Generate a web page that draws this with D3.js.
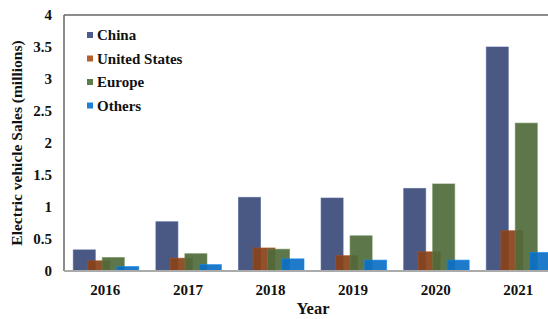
<!DOCTYPE html>
<html>
<head>
<meta charset="utf-8">
<script src="https://cdn.jsdelivr.net/npm/d3@7"></script>
<style>
  body { margin: 0; background: #fff; }
  svg text { font-family: "Liberation Serif", "Times New Roman", serif; font-weight: bold; fill: #111; }
</style>
</head>
<body>
<div id="chart"></div>
<script>
const years = ["2016", "2017", "2018", "2019", "2020", "2021"];
const series = ["China", "United States", "Europe", "Others"];
const china = [0.33, 0.77, 1.15, 1.14, 1.29, 3.5];
const unitedStates = [0.16, 0.2, 0.36, 0.24, 0.3, 0.63];
const europe = [0.21, 0.27, 0.34, 0.55, 1.36, 2.31];
const others = [0.07, 0.1, 0.19, 0.17, 0.17, 0.29];
const yTicks = [0, 0.5, 1, 1.5, 2, 2.5, 3, 3.5, 4];

const values = [china, unitedStates, europe, others];
const barColors = ["#3b4a79", "#8a4219", "#4f6a3b", "#0c6fc4"];
const legendColors = ["#4b5b8f", "#b65e2e", "#5d7d48", "#1d7fd6"];

const width = 548, height = 319;
const plotLeft = 64, plotTop = 15, plotBottom = 271;

const svg = d3.select("#chart")
  .append("svg")
  .attr("width", width)
  .attr("height", height);

const x = d3.scaleBand()
  .domain(years)
  .range([plotLeft, plotLeft + 6 * 82.6])
  .paddingInner(0)
  .paddingOuter(0);

// bars overlap: each series shifted by a fixed step inside the band
const barW = 22, barStep = 14.5;
const xs = d3.scaleBand()
  .domain(series)
  .range([0, barStep * 4]);

const y = d3.scaleLinear()
  .domain([0, 4])
  .range([plotBottom, plotTop]);

// frame: top border
svg.append("line")
  .attr("x1", plotLeft).attr("x2", width)
  .attr("y1", plotTop).attr("y2", plotTop)
  .attr("stroke", "#666").attr("stroke-width", 1.5);

const g = svg.append("g");
series.forEach((s, i) => {
  g.append("g")
    .selectAll("rect")
    .data(years)
    .join("rect")
    .attr("x", d => x(d) + x.bandwidth() / 2 - 32 + xs(s))
    .attr("y", (d, j) => y(values[i][j]))
    .attr("width", barW)
    .attr("height", (d, j) => plotBottom - y(values[i][j]))
    .attr("fill", barColors[i])
    .attr("fill-opacity", 0.92)
    .attr("stroke", d3.color(barColors[i]).brighter(0.6))
    .attr("stroke-opacity", 0.6)
    .attr("stroke-width", 1);
});

// axes lines
svg.append("line")
  .attr("x1", plotLeft).attr("x2", plotLeft)
  .attr("y1", plotTop).attr("y2", plotBottom)
  .attr("stroke", "#666").attr("stroke-width", 1.5);
svg.append("line")
  .attr("x1", plotLeft).attr("x2", width)
  .attr("y1", plotBottom).attr("y2", plotBottom)
  .attr("stroke", "#aaa").attr("stroke-width", 2);

// y tick labels
svg.append("g")
  .selectAll("text")
  .data(yTicks)
  .join("text")
  .attr("x", 52)
  .attr("y", d => y(d))
  .attr("dy", "0.35em")
  .attr("text-anchor", "end")
  .attr("font-size", 15)
  .text(d => d);

// x tick labels
svg.append("g")
  .selectAll("text")
  .data(years)
  .join("text")
  .attr("x", d => x(d) + x.bandwidth() / 2)
  .attr("y", 290)
  .attr("dy", "0.35em")
  .attr("text-anchor", "middle")
  .attr("font-size", 15)
  .text(d => d);

svg.append("text")
  .attr("x", 313)
  .attr("y", 314)
  .attr("text-anchor", "middle")
  .attr("font-size", 16.5)
  .text("Year");

svg.append("text")
  .attr("transform", "translate(17,143) rotate(-90)")
  .attr("dy", "0.35em")
  .attr("text-anchor", "middle")
  .attr("font-size", 15.5)
  .text("Electric vehicle Sales (millions)");

// legend
const legend = svg.append("g")
  .selectAll("g")
  .data(series)
  .join("g")
  .attr("transform", (d, i) => `translate(87,${35 + i * 23.5})`);
legend.append("rect")
  .attr("x", 0).attr("y", -3)
  .attr("width", 6).attr("height", 6)
  .attr("fill", (d, i) => legendColors[i]);
legend.append("text")
  .attr("x", 10)
  .attr("dy", "0.35em")
  .attr("font-size", 15)
  .text(d => d);
</script>
</body>
</html>
